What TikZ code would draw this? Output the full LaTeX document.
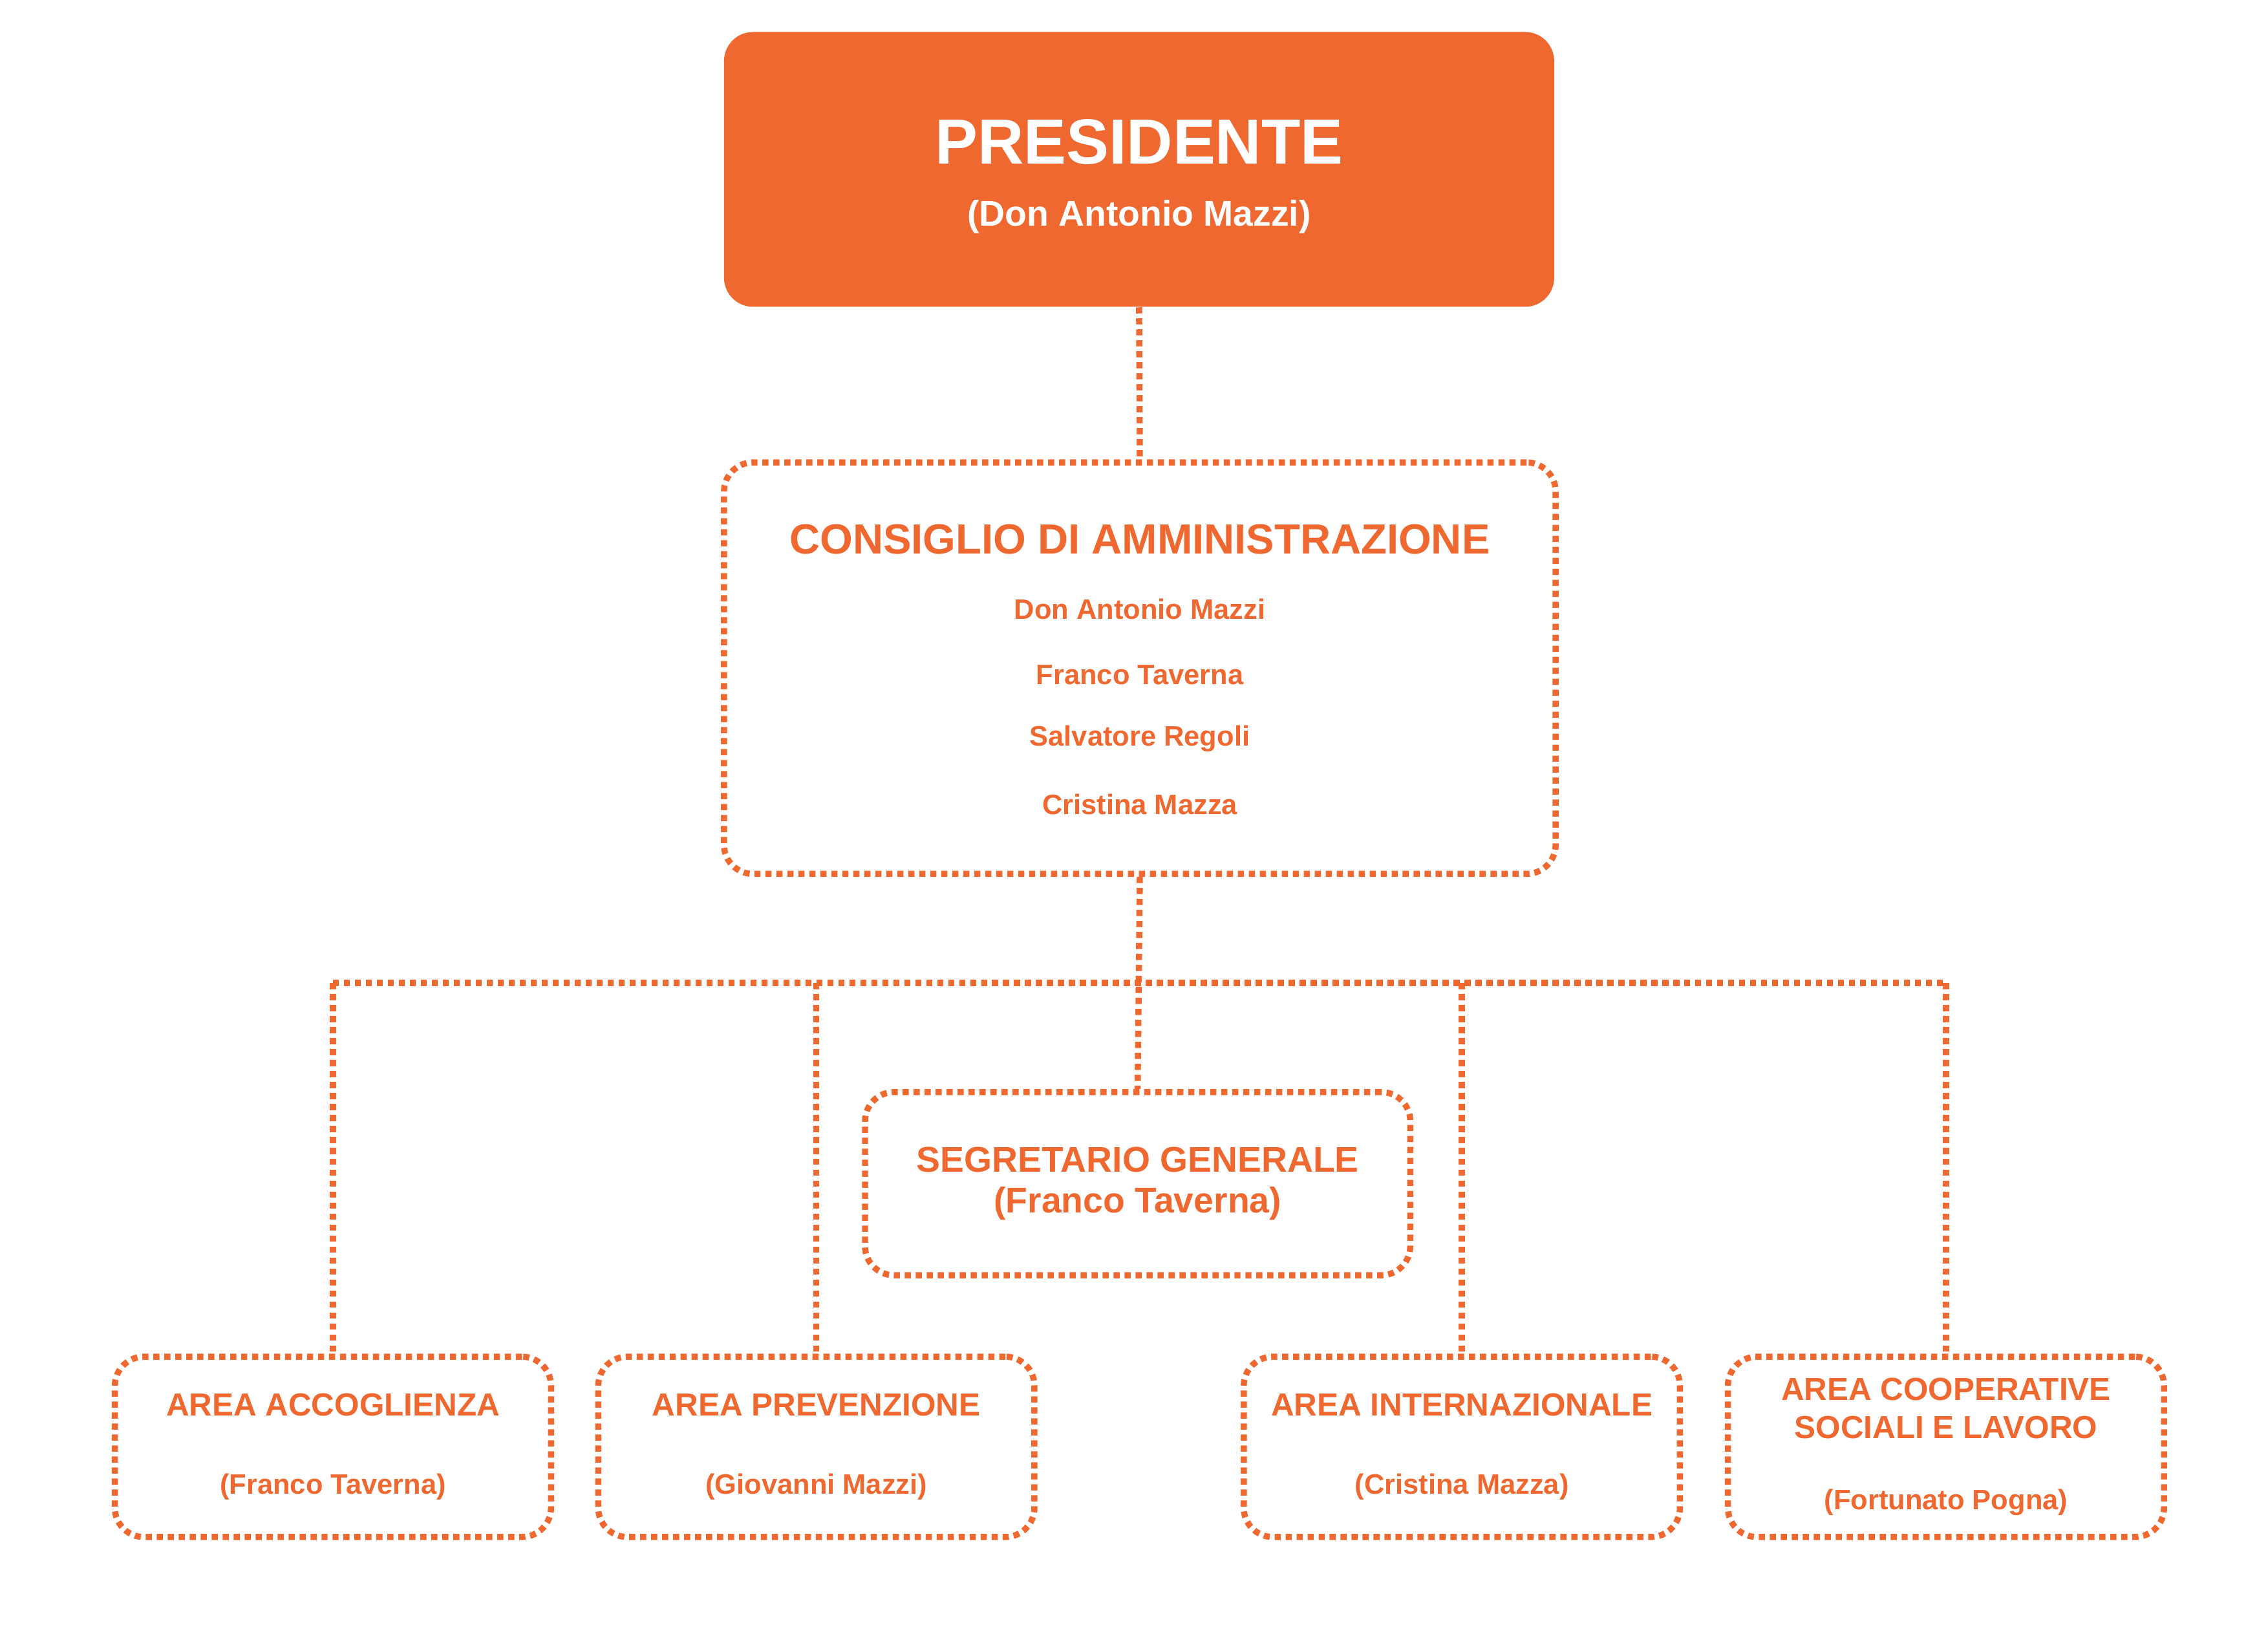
\documentclass[tikz,border=0pt]{standalone}
\usepackage{fontspec}
\setmainfont{Liberation Sans}
\definecolor{arancio}{HTML}{EF6830}
\tikzset{
  punti/.style={draw=arancio, line width=2.4pt, dash pattern=on 2.4pt off 1.9pt},
  box/.style={punti, rounded corners=0.4cm, minimum width=6cm, minimum height=2.48cm},
  txt/.style={text=arancio, font=\bfseries, align=center}
}
\begin{document}
\begin{tikzpicture}
        \useasboundingbox (0,0) rectangle (31.2,-22.5);
        % Presidente
        \node[fill=arancio, rounded corners=0.4cm, minimum width=11.42cm, minimum height=3.78cm] (pres) at (15.67,-2.33) {};
        \node[text=white, font=\bfseries\fontsize{25}{30}\selectfont] (prestit) at (15.67,-1.95) {PRESIDENTE};
        \node[text=white, font=\bfseries\fontsize{14}{17}\selectfont] (presnom) at (15.67,-2.98) {(Don Antonio Mazzi)};

        % Consiglio
        \node[box, minimum width=11.44cm, minimum height=5.66cm] (cda) at (15.68,-9.19) {};
        \node[txt, font=\bfseries\fontsize{16.5}{20}\selectfont] (cdatit) at (15.68,-7.42) {CONSIGLIO DI AMMINISTRAZIONE};
        \foreach \y/\nome in {-8.38/Don Antonio Mazzi, -9.28/Franco Taverna, -10.16/Salvatore Regoli, -11.06/Cristina Mazza} {
            \node[txt, font=\bfseries\fontsize{11}{13}\selectfont] at (15.68,\y) {\nome};
        }

        % Segretario
        \node[box, txt, minimum width=7.5cm, minimum height=2.52cm, font=\bfseries\fontsize{14}{16}\selectfont] (seg) at (15.65,-16.28) {SEGRETARIO GENERALE\\(Franco Taverna)};

        % Aree
        \node[box, txt, font=\bfseries\fontsize{12.5}{15}\selectfont] (acc) at (4.58,-19.9) {AREA ACCOGLIENZA\\[0.55cm]{\fontsize{11}{13}\selectfont(Franco Taverna)}};
        \node[box, txt, font=\bfseries\fontsize{12.5}{15}\selectfont] (prev) at (11.23,-19.9) {AREA PREVENZIONE\\[0.55cm]{\fontsize{11}{13}\selectfont(Giovanni Mazzi)}};
        \node[box, txt, font=\bfseries\fontsize{12.5}{15}\selectfont] (int) at (20.11,-19.9) {AREA INTERNAZIONALE\\[0.55cm]{\fontsize{11}{13}\selectfont(Cristina Mazza)}};
        \node[box, txt, font=\bfseries\fontsize{12.5}{15}\selectfont] (coop) at (26.77,-19.9) {AREA COOPERATIVE\\SOCIALI E LAVORO\\[0.45cm]{\fontsize{11}{13}\selectfont(Fortunato Pogna)}};

        % Collegamenti
        \coordinate (br) at (15.68,-13.52);
        \draw[punti] (pres.south) -- (cda.north);
        \draw[punti] (cda.south) -- (seg.north);
        \draw[punti] (acc.north |- br) -- (coop.north |- br);
        \foreach \n in {acc, prev, int, coop} {
            \draw[punti] (\n.north |- br) -- (\n.north);
        }
\end{tikzpicture}
\end{document}
